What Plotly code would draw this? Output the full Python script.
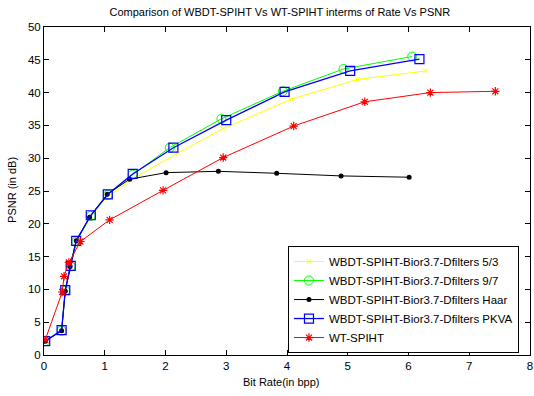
import plotly.graph_objects as go

# Data
x_53 = [0.02, 0.29, 0.35, 0.44, 0.53, 0.77, 1.04, 1.45, 2.21, 2.95, 4.07, 5.16, 6.28]
y_53 = [2.1, 3.7, 9.8, 13.4, 17.2, 21.0, 24.1, 26.8, 30.8, 34.5, 39.0, 42.0, 43.3]

x_97 = [0.02, 0.29, 0.35, 0.44, 0.53, 0.77, 1.05, 1.46, 2.07, 2.92, 3.93, 4.93, 6.06]
y_97 = [2.1, 3.7, 9.8, 13.5, 17.3, 21.2, 24.4, 27.5, 31.6, 36.0, 40.2, 43.6, 45.5]

x_haar = [0.02, 0.29, 0.35, 0.43, 0.53, 0.75, 1.04, 1.41, 2.01, 2.87, 3.83, 4.89, 6.01]
y_haar = [2.1, 3.7, 9.7, 13.5, 17.4, 21.0, 24.5, 26.8, 27.8, 28.0, 27.7, 27.3, 27.1]

x_pkva = [0.02, 0.29, 0.35, 0.44, 0.53, 0.77, 1.05, 1.46, 2.13, 3.00, 3.96, 5.04, 6.18]
y_pkva = [2.1, 3.8, 9.9, 13.6, 17.4, 21.3, 24.5, 27.6, 31.6, 35.8, 40.1, 43.3, 45.1]

x_wt = [0.02, 0.30, 0.33, 0.41, 0.60, 1.08, 1.96, 2.95, 4.11, 5.28, 6.36, 7.43]
y_wt = [2.3, 9.6, 12.0, 14.1, 17.3, 20.6, 25.1, 30.1, 34.9, 38.6, 40.0, 40.2]

names = [
    "WBDT-SPIHT-Bior3.7-Dfilters 5/3",
    "WBDT-SPIHT-Bior3.7-Dfilters 9/7",
    "WBDT-SPIHT-Bior3.7-Dfilters Haar",
    "WBDT-SPIHT-Bior3.7-Dfilters PKVA",
    "WT-SPIHT",
]

x_ticks = [0, 1, 2, 3, 4, 5, 6, 7, 8]
y_ticks = [0, 5, 10, 15, 20, 25, 30, 35, 40, 45, 50]

FONT = "Arial, Liberation Sans, sans-serif"

fig = go.Figure()
fig.add_trace(go.Scatter(x=x_53, y=y_53, name=names[0], mode="lines+markers",
                         line=dict(color="#ffff00", width=1),
                         marker=dict(symbol="x-thin-open", size=5, color="#ffff00",
                                     line=dict(color="#ffff00", width=1))))
fig.add_trace(go.Scatter(x=x_97, y=y_97, name=names[1], mode="lines+markers",
                         line=dict(color="#00ff00", width=1),
                         marker=dict(symbol="circle-open", size=9, color="#00ff00",
                                     line=dict(color="#00ff00", width=1))))
fig.add_trace(go.Scatter(x=x_haar, y=y_haar, name=names[2], mode="lines+markers",
                         line=dict(color="#000000", width=1),
                         marker=dict(symbol="circle", size=5, color="#000000")))
fig.add_trace(go.Scatter(x=x_pkva, y=y_pkva, name=names[3], mode="lines+markers",
                         line=dict(color="#0000ff", width=1.3),
                         marker=dict(symbol="square-open", size=9, color="#0000ff",
                                     line=dict(color="#0000ff", width=1.2))))
fig.add_trace(go.Scatter(x=x_wt, y=y_wt, name=names[4], mode="lines+markers",
                         line=dict(color="#ff0000", width=1),
                         marker=dict(symbol="asterisk-open", size=7, color="#ff0000",
                                     line=dict(color="#ff0000", width=1.2))))

axis_common = dict(
    showgrid=False, zeroline=False, showline=True, linecolor="black", linewidth=1,
    mirror="ticks", ticks="inside", ticklen=5, tickcolor="black", automargin=False,
    tickfont=dict(family=FONT, size=11.5, color="black"),
)

fig.update_layout(
    width=534, height=396,
    margin=dict(l=44, r=4, t=27, b=41),
    paper_bgcolor="white", plot_bgcolor="white",
    font=dict(family=FONT, size=11, color="black"),
    title=dict(text="Comparison of WBDT-SPIHT Vs WT-SPIHT interms of Rate Vs PSNR",
               x=0.524, xanchor="center", y=0.970, yanchor="middle",
               font=dict(family=FONT, size=11, color="black")),
    xaxis=dict(range=[0, 8], tickvals=x_ticks, ticktext=[str(v) for v in x_ticks],
               **axis_common),
    yaxis=dict(range=[0, 50], tickvals=y_ticks, ticktext=[str(v) for v in y_ticks],
               **axis_common),
    legend=dict(x=0.502, y=0.006, xanchor="left", yanchor="bottom",
                bgcolor="white", bordercolor="black", borderwidth=1,
                font=dict(family=FONT, size=11.5, color="black"),
                tracegroupgap=0, itemwidth=30),
    showlegend=True,
    annotations=[
        dict(text="Bit Rate(in bpp)", xref="paper", yref="paper", x=0.488, y=-0.082,
             xanchor="center", yanchor="middle", showarrow=False,
             font=dict(family=FONT, size=11, color="black")),
        dict(text="PSNR (in dB)", xref="paper", yref="paper", x=-0.066, y=0.503,
             xanchor="center", yanchor="middle", showarrow=False, textangle=-90,
             font=dict(family=FONT, size=11, color="black")),
    ],
)

fig.write_html("out.html", config={"displayModeBar": False},
               post_script="document.body.style.margin='0px';")
